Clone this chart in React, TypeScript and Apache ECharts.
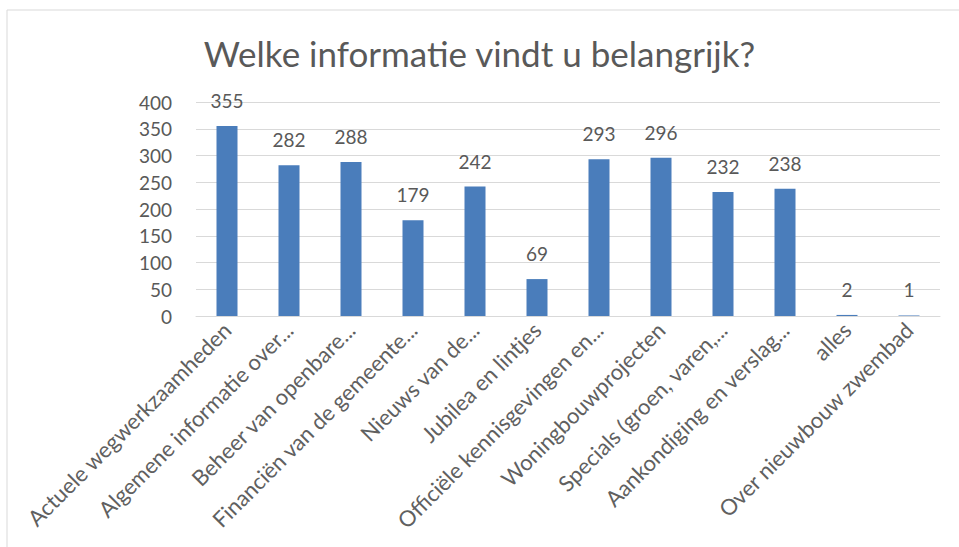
import React, { useEffect, useRef } from "react";
import * as echarts from "echarts";

const categories = [
  "Actuele wegwerkzaamheden",
  "Algemene informatie over...",
  "Beheer van openbare...",
  "Financiën van de gemeente...",
  "Nieuws van de...",
  "Jubilea en lintjes",
  "Officiële kennisgevingen en...",
  "Woningbouwprojecten",
  "Specials (groen, varen,...",
  "Aankondiging en verslag...",
  "alles",
  "Over nieuwbouw zwembad",
];
const values = [355, 282, 288, 179, 242, 69, 293, 296, 232, 238, 2, 1];
const title = "Welke informatie vindt u belangrijk?";

export default function App() {
  const ref = useRef<HTMLDivElement>(null);
  useEffect(() => {
    if (!ref.current) return;
    const chart = echarts.init(ref.current, null, { renderer: "svg" });
    chart.setOption({
      animation: false,
      textStyle: { fontFamily: "Lato" },
      title: {
        text: title,
        left: "center",
        top: 30,
        textStyle: { fontSize: 35, fontWeight: "normal", color: "#595959", fontFamily: "Lato" },
      },
      graphic: [
        {
          type: "rect",
          shape: { x: 7, y: 10, width: 1000, height: 600 },
          style: { fill: "none", stroke: "#d9d9d9", lineWidth: 1 },
          silent: true,
        },
      ],
      grid: { left: 196, right: 19, top: 102, bottom: 231 },
      xAxis: {
        type: "category",
        data: categories,
        axisLine: { lineStyle: { color: "#d9d9d9" } },
        axisTick: { show: false },
        axisLabel: {
          rotate: 45,
          interval: 0,
          color: "#606060",
          fontSize: 22,
          margin: 10,
          fontFamily: "Lato",
        },
      },
      yAxis: {
        type: "value",
        min: 0,
        max: 400,
        interval: 50,
        axisLine: { show: false },
        axisTick: { show: false },
        splitLine: { lineStyle: { color: "#d9d9d9" } },
        axisLabel: { color: "#595959", fontSize: 19, margin: 24, fontFamily: "Lato" },
      },
      series: [
        {
          type: "bar",
          data: values,
          barWidth: 21,
          itemStyle: { color: "#4a7dbb" },
          label: {
            show: true,
            position: "top",
            distance: 16,
            color: "#595959",
            fontSize: 19,
            fontFamily: "Lato",
          },
        },
      ],
    });
    return () => chart.dispose();
  }, []);
  return <div ref={ref} style={{ width: 959, height: 547, position: "absolute", left: 0, top: 0 }} />;
}
